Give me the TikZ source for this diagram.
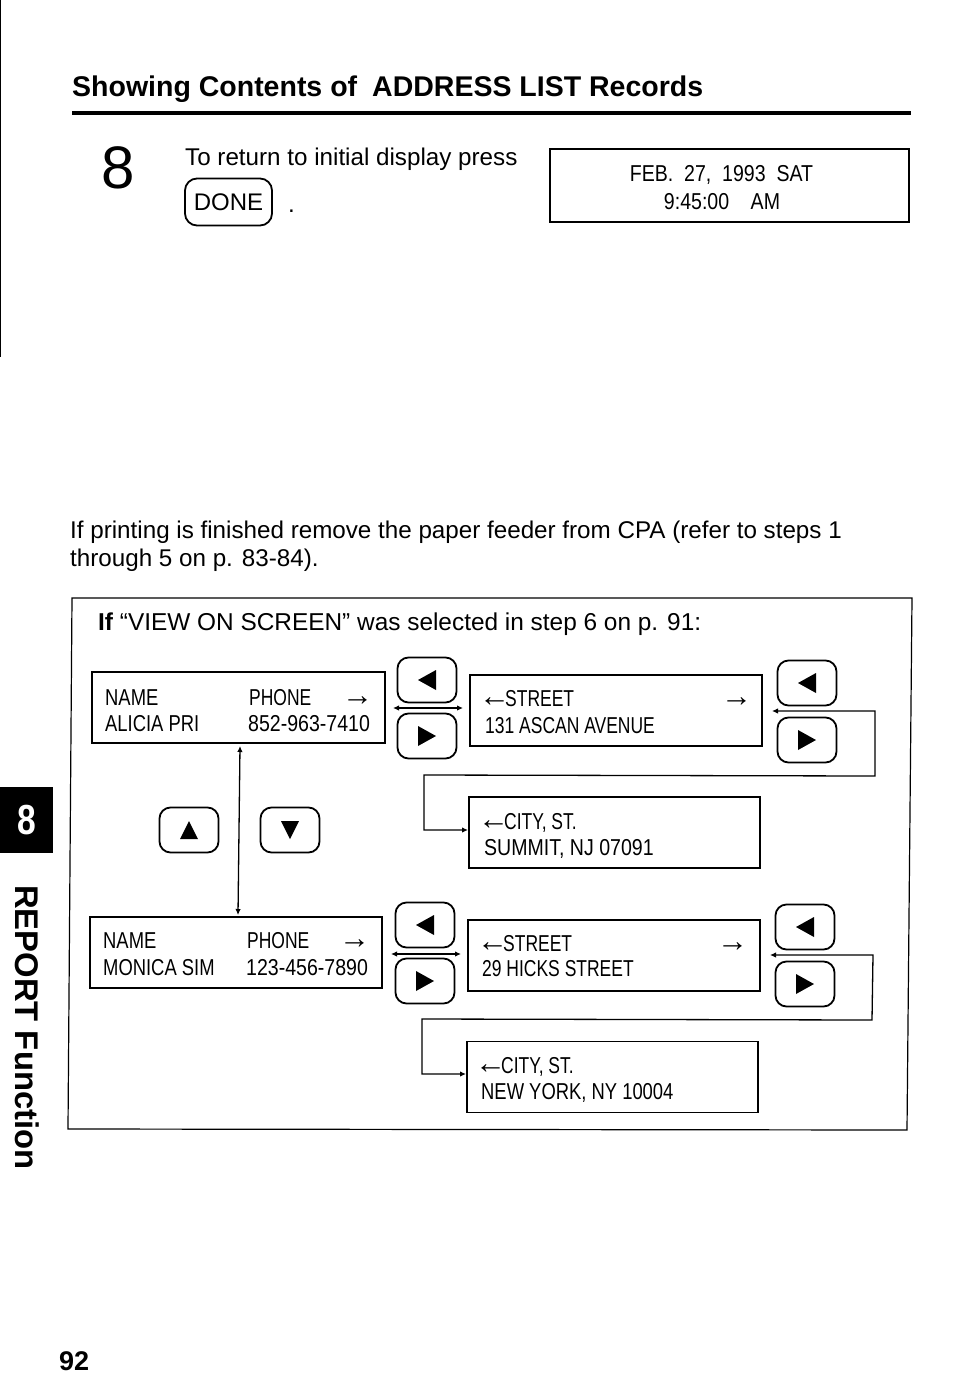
\documentclass[tikz,border=0pt]{standalone}
\usepackage{fontspec}
\setmainfont{Liberation Sans}
\newfontfamily\lcd[FakeStretch=0.8]{Liberation Sans}
\newfontfamily\lcdn[FakeStretch=0.85]{Liberation Sans}
\newfontfamily\lcds[FakeStretch=0.76]{Liberation Sans}
\usetikzlibrary{arrows.meta}
\newcommand{\larr}{\kern-6pt\raisebox{0pt}{\rmfamily\fontsize{31}{31}\selectfont ←}\kern-5pt}
\newcommand{\rarr}{\raisebox{0pt}{\rmfamily\fontsize{31}{31}\selectfont →}}
\tikzset{
  lcdbox/.style={draw=black,line width=1.2pt,minimum width=#1,minimum height=71pt,inner sep=0pt,outer sep=0pt},
  btn/.style={draw=black,line width=1.8pt,rounded corners=11pt,minimum width=59pt,minimum height=45pt,inner sep=0pt},
  lcdtext/.style={anchor=base west,inner sep=0pt,font=\lcd\fontsize{23}{23}\selectfont},
  lcdnum/.style={anchor=base west,inner sep=0pt,font=\lcdn\fontsize{23}{23}\selectfont},
  lcdsmall/.style={anchor=base west,inner sep=0pt,font=\lcds\fontsize{23}{23}\selectfont},
  body/.style={anchor=base west,inner sep=0pt,font=\fontsize{24.2}{24.2}\selectfont},
  conn/.style={draw=black,line width=1.3pt,{Latex[length=6pt,width=5.5pt]}-{Latex[length=6pt,width=5.5pt]}},
}
\newcommand{\trileft}[2]{\fill[shift={(#1,#2)}] (-9,0)--(9,-10)--(9,10)--cycle;}
\newcommand{\triright}[2]{\fill[shift={(#1,#2)}] (9,0)--(-9,-10)--(-9,10)--cycle;}
\newcommand{\triup}[2]{\fill[shift={(#1,#2)}] (0,-9)--(-9,9)--(9,9)--cycle;}
\newcommand{\tridown}[2]{\fill[shift={(#1,#2)}] (0,9)--(-9,-9)--(9,-9)--cycle;}
\begin{document}
\begin{tikzpicture}[x=1pt,y=-1pt]
\useasboundingbox (0,0) rectangle (954,1394);
% page furniture
\draw[line width=1.2pt] (0.6,0) -- (0.6,357);
\node[anchor=base west,inner sep=0pt,font=\bfseries\fontsize{28.5}{28.5}\selectfont] (title) at (72,97) {Showing Contents of\hspace{0.25em} ADDRESS LIST Records};
\draw[line width=4pt] (72,113) -- (911,113);
\node[anchor=base,inner sep=0pt,font=\fontsize{60}{60}\selectfont] (stepnum) at (118,188) {8};
\node[body] (ret) at (185,165) {To return to initial display press};
\node[draw=black,line width=1.8pt,rounded corners=12pt,minimum width=87pt,minimum height=47pt,inner sep=0pt,font=\fontsize{24}{24}\selectfont] (done) at (228.5,202) {DONE};
\node[body] (dot) at (288,212) {.};
\node[draw=black,line width=1.2pt,minimum width=359pt,minimum height=73pt,inner sep=0pt] (disp) at (729.5,185.5) {};
\node[lcdnum,anchor=base] (d1) at (721.5,181) {FEB.\ \ 27,\ \ 1993\ \ SAT};
\node[lcdnum,anchor=base] (d2) at (722,209) {9:45:00\hspace{0.7em} AM};
\node[body] (p1) at (70,538) {If printing is finished remove the paper feeder from CPA (refer to steps 1};
\node[body] (p2) at (70,566) {through 5 on p. 83-84).};
% side tab
\node[fill=black,text=white,minimum width=53pt,minimum height=66pt,inner sep=0pt,font=\lcd\bfseries\fontsize{42}{42}\selectfont] (tab) at (26.5,820) {8};
\node[rotate=-90,anchor=base west,inner sep=0pt,font=\bfseries\fontsize{32.8}{32.8}\selectfont] (side) at (15,885) {REPORT Function};
\node[anchor=base west,inner sep=0pt,font=\bfseries\fontsize{27}{27}\selectfont] (pg) at (59,1370) {92};
% frame
\draw[line width=1.2pt] (72,598) -- (912,598) -- (907,1130) -- (68,1129) -- cycle;
\node[body,font=\fontsize{24.4}{24.4}\selectfont] (frt) at (98,630) {\textbf{If} ``VIEW ON SCREEN'' was selected in step 6 on p. 91:};
% boxes
\node[lcdbox=293pt] (A) at (238.5,707.5) {};
\node[lcdbox=292pt] (B) at (616,710.5) {};
\node[lcdbox=291pt] (C) at (614.5,832.5) {};
\node[lcdbox=292pt] (D) at (236,952.5) {};
\node[lcdbox=292pt] (E) at (614,955.5) {};
\node[lcdbox=291pt] (F) at (612.5,1077) {};
% box texts
\node[lcdtext] (a1) at (105,705) {NAME};
\node[lcdsmall] (a2) at (249,705) {PHONE};
\node[lcdtext] (a3) at (342,705) {\rarr};
\node[lcdtext] (a4) at (105,731) {ALICIA PRI};
\node[lcdnum] (a5) at (248,731) {852-963-7410};
\node[lcdsmall] (b1) at (485,706) {\larr STREET};
\node[lcdtext] (b2) at (721,706) {\rarr};
\node[lcdsmall] (b3) at (485,733) {131 ASCAN AVENUE};
\node[lcdsmall] (c1) at (484,829) {\larr CITY, ST.};
\node[lcdnum] (c2) at (484,855) {SUMMIT, NJ 07091};
\node[lcdtext] (e1) at (103,948) {NAME};
\node[lcdsmall] (e2) at (247,948) {PHONE};
\node[lcdtext] (e3) at (339,948) {\rarr};
\node[lcdtext] (e4) at (103,975) {MONICA SIM};
\node[lcdnum] (e5) at (246,975) {123-456-7890};
\node[lcdsmall] (f1) at (483,951) {\larr STREET};
\node[lcdtext] (f2) at (717,951) {\rarr};
\node[lcdsmall] (f3) at (482,976) {29 HICKS STREET};
\node[lcdsmall] (g1) at (481,1073) {\larr CITY, ST.};
\node[lcdtext] (g2) at (481,1099) {NEW YORK, NY 10004};
% buttons
\node[btn] (k1) at (427,680) {}; \trileft{427}{680}
\node[btn] (k2) at (427,736) {}; \triright{427}{736}
\node[btn] (k3) at (807,683) {}; \trileft{807}{683}
\node[btn] (k4) at (807,740) {}; \triright{807}{740}
\node[btn] (k5) at (425,925) {}; \trileft{425}{925}
\node[btn] (k6) at (425,981) {}; \triright{425}{981}
\node[btn] (k7) at (805,927) {}; \trileft{805}{927}
\node[btn] (k8) at (805,984) {}; \triright{805}{984}
\node[btn] (up) at (189,830) {}; \triup{189}{830}
\node[btn] (dn) at (290,830) {}; \tridown{290}{830}
% connectors
\coordinate (ab1) at (393,708); \coordinate (ab2) at (463,708);
\draw[conn] (ab1) -- (ab2);
\coordinate (de1) at (391,954); \coordinate (de2) at (461,954);
\draw[conn] (de1) -- (de2);
\coordinate (v1) at (240,746); \coordinate (v2) at (238,915);
\draw[conn] (v1) -- (v2);
\coordinate (r1) at (772,711);
\draw[conn] (r1) -- (875,711) -- (875,776) -- (424,775) -- (424,830) -- ([xshift=-1pt]C.west |- 0,830);
\coordinate (r2) at (770,955);
\draw[conn] (r2) -- (873,955) -- (872,1020) -- (422,1019) -- (422,1074) -- ([xshift=-1pt]F.west |- 0,1074);
\end{tikzpicture}
\end{document}
